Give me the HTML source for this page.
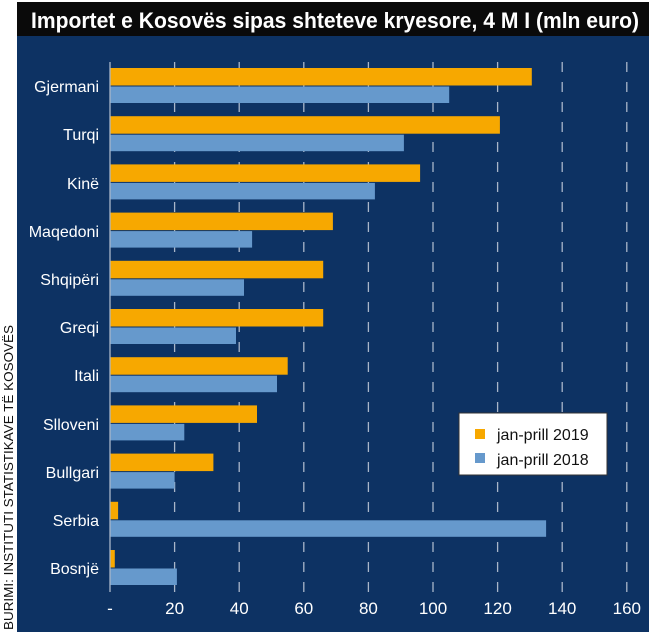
<!DOCTYPE html>
<html><head><meta charset="utf-8"><style>
body{margin:0;background:#fff;width:650px;height:637px;overflow:hidden;font-family:"Liberation Sans",sans-serif}
</style></head><body>
<svg width="650" height="637" xmlns="http://www.w3.org/2000/svg" font-family="Liberation Sans, sans-serif">
<rect x="0" y="0" width="650" height="637" fill="#fff"/>
<rect x="17" y="2" width="632" height="630" fill="#0d3263"/>
<rect x="17" y="2" width="632" height="34" fill="#0a0a0a"/>
<text x="31" y="28" fill="#fff" font-size="22" font-weight="bold" textLength="608" lengthAdjust="spacingAndGlyphs">Importet e Kosovës sipas shteteve kryesore, 4 M I (mln euro)</text>
<text transform="translate(13,630) rotate(-90)" fill="#111" font-size="12.5" textLength="305" lengthAdjust="spacingAndGlyphs">BURIMI: INSTITUTI STATISTIKAVE TË KOSOVËS</text>
<g stroke="#a9b6c9" stroke-width="1.3" stroke-dasharray="10,10">
<line x1="174.6" y1="62" x2="174.6" y2="592"/><line x1="239.2" y1="62" x2="239.2" y2="592"/><line x1="303.8" y1="62" x2="303.8" y2="592"/><line x1="368.4" y1="62" x2="368.4" y2="592"/><line x1="433" y1="62" x2="433" y2="592"/><line x1="497.6" y1="62" x2="497.6" y2="592"/><line x1="562.2" y1="62" x2="562.2" y2="592"/><line x1="626.8" y1="62" x2="626.8" y2="592"/>
</g>
<g fill="#f7a800">
<rect x="110" y="68" width="421.8" height="17.5"/>
<rect x="110" y="116.2" width="389.9" height="17.5"/>
<rect x="110" y="164.4" width="310.1" height="17.5"/>
<rect x="110" y="212.6" width="222.9" height="17.5"/>
<rect x="110" y="260.8" width="213.2" height="17.5"/>
<rect x="110" y="309" width="213.2" height="17.5"/>
<rect x="110" y="357.2" width="177.7" height="17.5"/>
<rect x="110" y="405.4" width="147" height="17.5"/>
<rect x="110" y="453.6" width="103.4" height="17.5"/>
<rect x="110" y="501.8" width="8.1" height="17.5"/>
<rect x="110" y="550" width="4.8" height="17.5"/>
</g>
<g fill="#6699cc">
<rect x="110" y="86.5" width="339.2" height="16.5"/>
<rect x="110" y="134.7" width="293.9" height="16.5"/>
<rect x="110" y="182.9" width="264.9" height="16.5"/>
<rect x="110" y="231.1" width="142.1" height="16.5"/>
<rect x="110" y="279.3" width="134" height="16.5"/>
<rect x="110" y="327.5" width="126" height="16.5"/>
<rect x="110" y="375.7" width="167" height="16.5"/>
<rect x="110" y="423.9" width="74.3" height="16.5"/>
<rect x="110" y="472.1" width="64.6" height="16.5"/>
<rect x="110" y="520.3" width="436.1" height="16.5"/>
<rect x="110" y="568.5" width="66.9" height="16.5"/>
</g>
<line x1="110" y1="62" x2="110" y2="592" stroke="#a9b6c9" stroke-width="1.3"/>
<g fill="#fff" font-size="17" text-anchor="middle">
<text x="110" y="614">-</text><text x="174.6" y="614">20</text><text x="239.2" y="614">40</text><text x="303.8" y="614">60</text><text x="368.4" y="614">80</text><text x="433" y="614">100</text><text x="497.6" y="614">120</text><text x="562.2" y="614">140</text><text x="626.8" y="614">160</text>
</g>
<g fill="#fff" font-size="16" text-anchor="end">
<text x="99" y="92">Gjermani</text><text x="99" y="140">Turqi</text><text x="99" y="189">Kinë</text><text x="99" y="237">Maqedoni</text><text x="99" y="285">Shqipëri</text><text x="99" y="333">Greqi</text><text x="99" y="381">Itali</text><text x="99" y="430">Slloveni</text><text x="99" y="478">Bullgari</text><text x="99" y="526">Serbia</text><text x="99" y="574">Bosnjë</text>
</g>
<rect x="459" y="413" width="148" height="62" fill="#fff" stroke="#333"/>
<rect x="475" y="429" width="10" height="10" fill="#f7a800"/>
<rect x="475" y="453" width="10" height="10" fill="#6699cc"/>
<g fill="#111" font-size="16"><text x="497" y="440">jan-prill 2019</text><text x="497" y="465">jan-prill 2018</text></g>
</svg>
</body></html>
